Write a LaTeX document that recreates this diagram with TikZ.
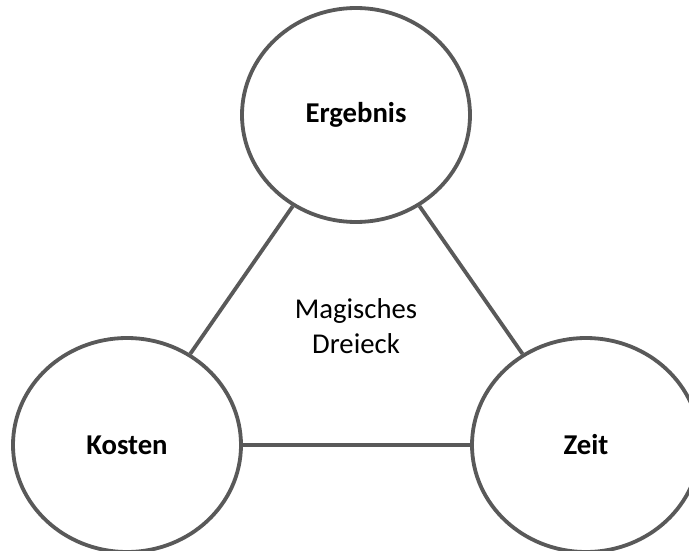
\documentclass[tikz,border=0pt]{standalone}
\usepackage{fontspec}
\setmainfont{Carlito}
\usetikzlibrary{shapes.geometric}
\definecolor{edgegray}{HTML}{595959}
\begin{document}
\begin{tikzpicture}[x=1pt,y=-1pt,
  bubble/.style={ellipse, draw=edgegray, line width=3.8pt, fill=white,
    minimum width=228pt, minimum height=214pt, inner sep=0pt,
    font=\fontsize{28.7}{35}\selectfont\bfseries},
  link/.style={draw=edgegray, line width=3.8pt}]
\clip (0,0) rectangle (689,551);
\useasboundingbox (0,0) rectangle (689,551);
\node[bubble] (erg) at (356,115) {Ergebnis};
\node[bubble] (kos) at (127,445) {Kosten};
\node[bubble] (zeit) at (586,445) {Zeit};
\draw[link] (erg) -- (kos);
\draw[link] (erg) -- (zeit);
\draw[link] (kos) -- (zeit);
\node[align=center, font=\fontsize{28.7}{35}\selectfont] (mag) at (356,326) {Magisches\\Dreieck};
\end{tikzpicture}
\end{document}
